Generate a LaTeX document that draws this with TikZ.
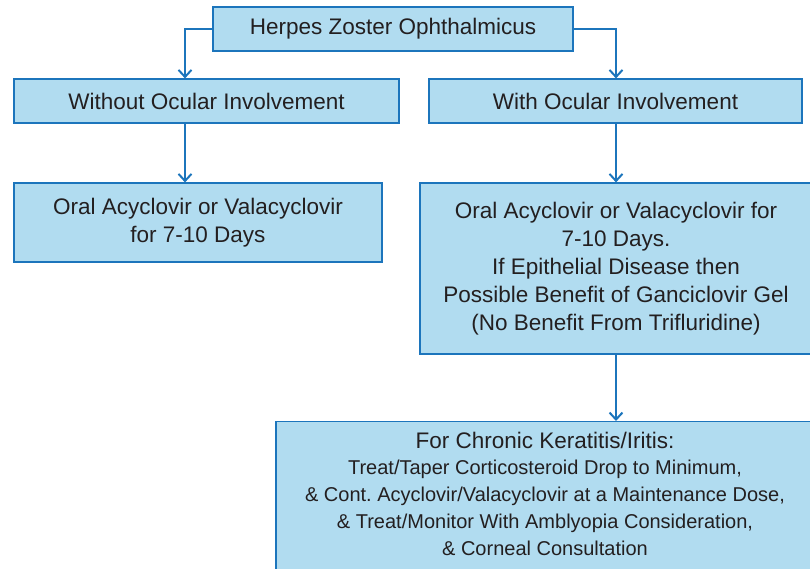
\documentclass[tikz,border=0pt]{standalone}
\usepackage{fontspec}
\setmainfont{Liberation Sans}
\usetikzlibrary{arrows.meta}
\definecolor{boxfill}{RGB}{177,220,240}
\definecolor{boxline}{RGB}{28,117,188}
\definecolor{ink}{RGB}{35,31,32}
\begin{document}
\begin{tikzpicture}[x=1pt,y=-1pt,
    box/.style={draw=boxline, line width=1.2pt, fill=boxfill, text=ink, inner sep=0pt,
      align=center, font=\fontsize{22.5}{27.5}\selectfont},
    arr/.style={boxline, line width=2pt, -{Straight Barb[length=7pt,width=13pt]}}]
  \useasboundingbox (0,0) rectangle (810,569);
  % columns the arrows run down
  \coordinate (lcol) at (185,0);
  \coordinate (rcol) at (616,0);
  \node[box, minimum width=360pt, minimum height=44pt] (hzo) at (393,29) {Herpes Zoster Ophthalmicus};
  \node[box, minimum width=385pt, minimum height=44pt] (without) at (206.5,101) {Without Ocular Involvement};
  \node[box, minimum width=373pt, minimum height=44pt] (with) at (615.5,101) {With Ocular Involvement};
  \node[box, minimum width=368pt, minimum height=79pt] (oralA) at (198,222.5)
    {Oral Acyclovir or Valacyclovir\\for 7-10 Days};
  \node[box, minimum width=392pt, minimum height=171pt, font=\fontsize{22.5}{28}\selectfont] (oralB) at (616,268.5)
    {Oral Acyclovir or Valacyclovir for\\7-10 Days.\\If Epithelial Disease then\\
     Possible Benefit of Ganciclovir Gel\\(No Benefit From Trifluridine)};
  % runs off the bottom edge
  \node[box, anchor=north, minimum width=538pt, inner ysep=11pt, text depth=24pt,
    font=\fontsize{20}{27}\selectfont] (chronic) at (545,421)
    {{\fontsize{22.5}{27}\selectfont For Chronic Keratitis/Iritis:}\\[-1pt]
     Treat/Taper Corticosteroid Drop to Minimum,\\
     \& Cont.\ Acyclovir/Valacyclovir at a Maintenance Dose,\\
     \& Treat/Monitor With Amblyopia Consideration,\\
     \& Corneal Consultation};
  % connectors
  \draw[arr] (hzo.west) -| (lcol |- without.north);
  \draw[arr] (hzo.east) -| (rcol |- with.north);
  \draw[arr] (lcol |- without.south) -- (lcol |- oralA.north);
  \draw[arr] (rcol |- with.south) -- (rcol |- oralB.north);
  \draw[arr] (rcol |- oralB.south) -- (rcol |- chronic.north);
\end{tikzpicture}
\end{document}
